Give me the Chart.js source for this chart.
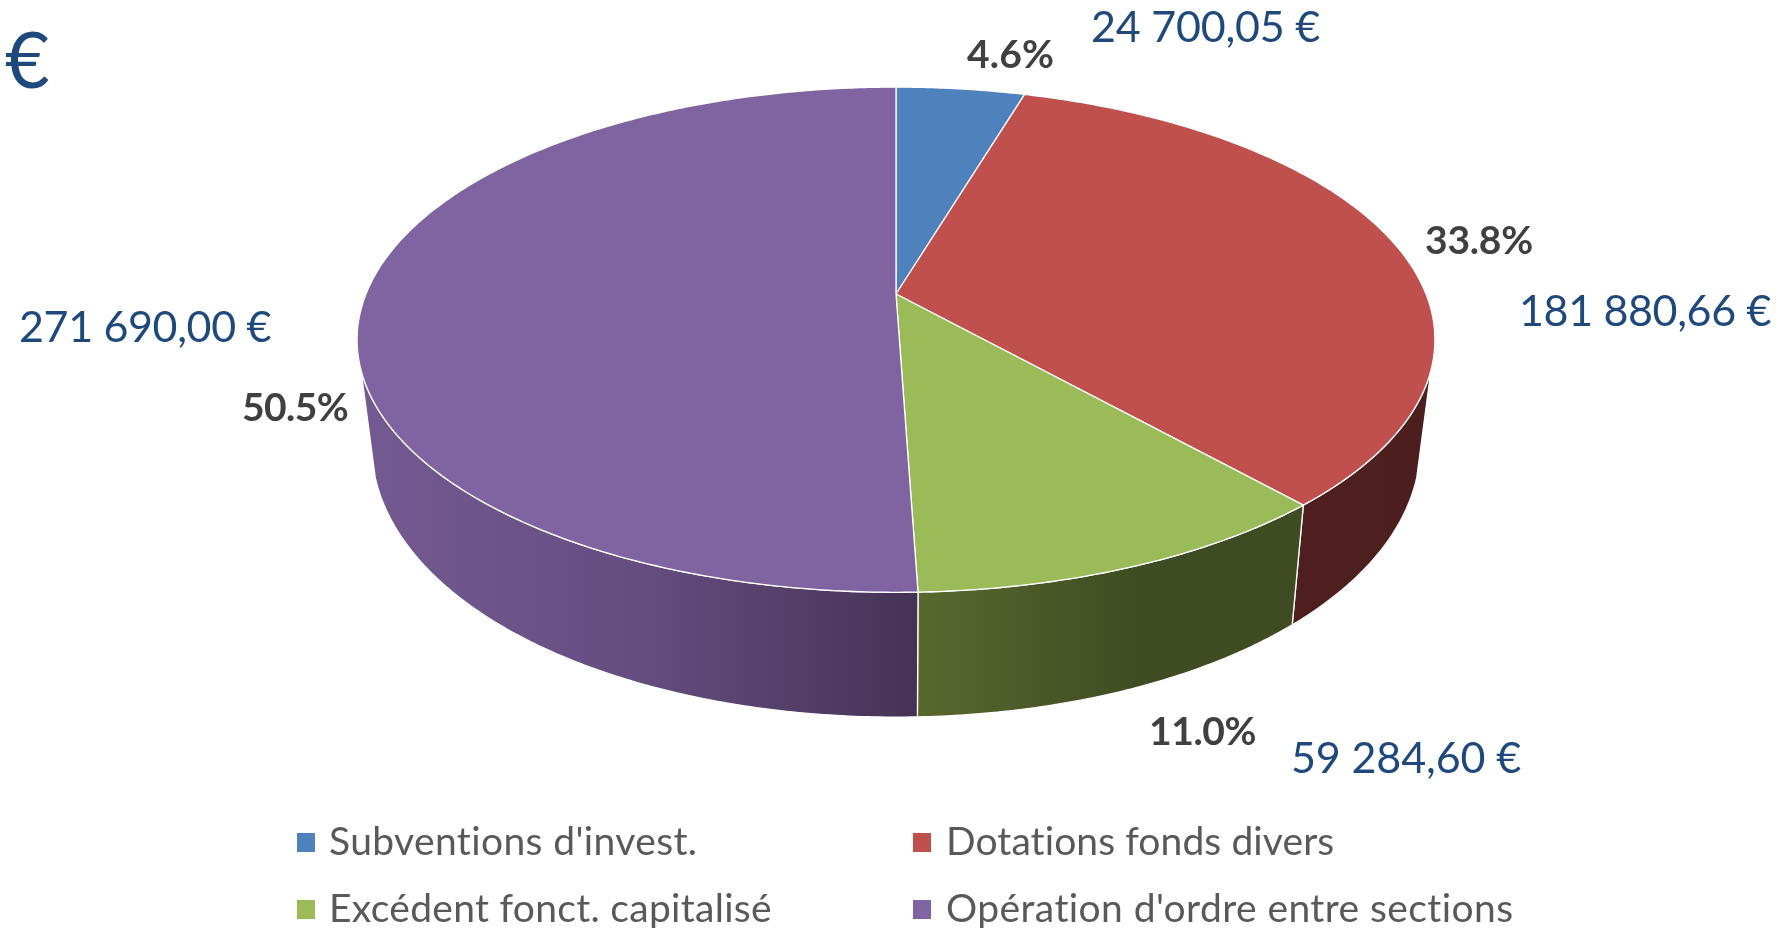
<!DOCTYPE html>
<html>
<head>
<meta charset="utf-8">
<title>Recettes d'investissement</title>
<script src="https://cdn.jsdelivr.net/npm/chart.js@4"></script>
<style>
    html, body { margin: 0; padding: 0; background: #fff; }
    canvas { display: block; }
</style>
</head>
<body>
<canvas id="pieChart" width="1792" height="928"></canvas>
<script>
const categories = ["Subventions d'invest.", "Dotations fonds divers", "Excédent fonct. capitalisé", "Opération d'ordre entre sections"];
const amounts = [24700.05, 181880.66, 59284.60, 271690.00];
const amountLabels = ["24 700,05 €", "181 880,66 €", "59 284,60 €", "271 690,00 €"];
const unitLabel = "€";

const topColors = ["#4F81BD", "#C0504D", "#9BBB59", "#8064A2"];
// wall gradients, left to right [offset, colour], running over wallRange[i]
const wallStops = [
    [[0, "#2A4A70"], [1, "#2A4A70"]],
    [[0, "#4E1F1E"], [1, "#4C1F1E"]],
    [[0, "#58692E"], [0.6, "#3F4B22"], [1, "#3F4B22"]],
    [[0, "#745A92"], [0.5, "#654D80"], [1, "#453355"]]
];
const wallRange = [[896, 1030], [1293, 1420], [917, 1293], [360, 917]];

// top rim and bottom rim of the tilted disc, in page pixels
const topDisc = { cx: 896, cy: 294, a: 530, b: 244.3, kx: 0.181, ky: 0.181 };
const bottomDisc = { cx: 896, cy: 393, a: 516, b: 275.5, kx: 0.18, ky: 0.15 };
const frontLimit = 0.2945; // sin(angle) above which the wall faces the viewer

const amountPos = [[1091, 42, 229], [1519, 326, 252], [1291, 773, 230], [19, 342, 252]];
const percentPos = [[967, 68, 87], [1425, 254, 108], [1149, 745, 107], [242, 421, 106]];
const legendPos = [[297, 855, 329, 369], [913, 855, 946, 389], [297, 922, 329, 443], [913, 922, 946, 569]];

function project(disc, angle) {
    const u = Math.cos(angle), v = Math.sin(angle);
    return [disc.cx + disc.a * u / (1 - disc.kx * v), disc.cy + disc.b * v / (1 - disc.ky * v)];
}

function traceRim(ctx, disc, from, to, moveFirst) {
    const steps = Math.max(2, Math.ceil(Math.abs(to - from) / 0.01));
    for (let i = 0; i <= steps; i++) {
        const p = project(disc, from + (to - from) * i / steps);
        if (i === 0 && moveFirst) ctx.moveTo(p[0], p[1]);
        else ctx.lineTo(p[0], p[1]);
    }
}

function drawText(ctx, text, x, y, font, color, width) {
    ctx.font = font;
    ctx.fillStyle = color;
    ctx.textAlign = "left";
    ctx.textBaseline = "alphabetic";
    ctx.letterSpacing = "0px";
    if (width) {
        const extra = (width - ctx.measureText(text).width) / text.length;
        ctx.letterSpacing = extra.toFixed(2) + "px";
    }
    ctx.fillText(text, x, y);
    ctx.letterSpacing = "0px";
}

const pie3d = {
    id: "pie3d",
    // the library works out the slice angles, this only projects them onto the tilted disc
    beforeDatasetsDraw(chart) {
        const ctx = chart.ctx;
        const arcs = chart.getDatasetMeta(0).data;
        const minA = Math.asin(frontLimit), maxA = Math.PI - minA;
        ctx.save();
        ctx.lineJoin = "round";
        ctx.strokeStyle = "#FFFFFF";

        arcs.forEach((arc, i) => {
            const from = Math.max(arc.startAngle, minA), to = Math.min(arc.endAngle, maxA);
            if (to <= from) return;
            const grad = ctx.createLinearGradient(wallRange[i][0], 0, wallRange[i][1], 0);
            wallStops[i].forEach(s => grad.addColorStop(s[0], s[1]));
            ctx.beginPath();
            traceRim(ctx, topDisc, from, to, true);
            traceRim(ctx, bottomDisc, to, from, false);
            ctx.closePath();
            ctx.fillStyle = grad;
            ctx.fill();
            ctx.lineWidth = 1.3;
            ctx.stroke();
        });

        arcs.forEach((arc, i) => {
            ctx.beginPath();
            ctx.moveTo(topDisc.cx, topDisc.cy);
            traceRim(ctx, topDisc, arc.startAngle, arc.endAngle, false);
            ctx.closePath();
            ctx.fillStyle = arc.options.backgroundColor;
            ctx.fill();
            ctx.lineWidth = 1.3;
            ctx.stroke();
        });
        ctx.restore();
        return false;
    },
    afterDraw(chart) {
        const ctx = chart.ctx;
        const total = amounts.reduce((a, b) => a + b, 0);
        ctx.save();
        drawText(ctx, unitLabel, 5, 88, "77px Lato", "#1F497D", 0);
        amountLabels.forEach((t, i) => {
            drawText(ctx, t, amountPos[i][0], amountPos[i][1], "43px Lato", "#1F497D", amountPos[i][2]);
        });
        amounts.forEach((val, i) => {
            const t = (val / total * 100).toFixed(1) + "%";
            drawText(ctx, t, percentPos[i][0], percentPos[i][1], "bold 39px Lato", "#404040", percentPos[i][2]);
        });
        categories.forEach((t, i) => {
            const p = legendPos[i];
            ctx.fillStyle = topColors[i];
            ctx.fillRect(p[0], p[1] - 22, 18, 19);
            drawText(ctx, t, p[2], p[1], "39px Lato", "#595959", p[3]);
        });
        ctx.restore();
    }
};

new Chart(document.getElementById("pieChart"), {
    type: "pie",
    data: {
        labels: categories,
        datasets: [{ data: amounts, backgroundColor: topColors, borderColor: "#FFFFFF", borderWidth: 1 }]
    },
    options: {
        responsive: false,
        animation: false,
        events: [],
        plugins: { legend: { display: false }, tooltip: { enabled: false } }
    },
    plugins: [pie3d]
});
</script>
</body>
</html>
